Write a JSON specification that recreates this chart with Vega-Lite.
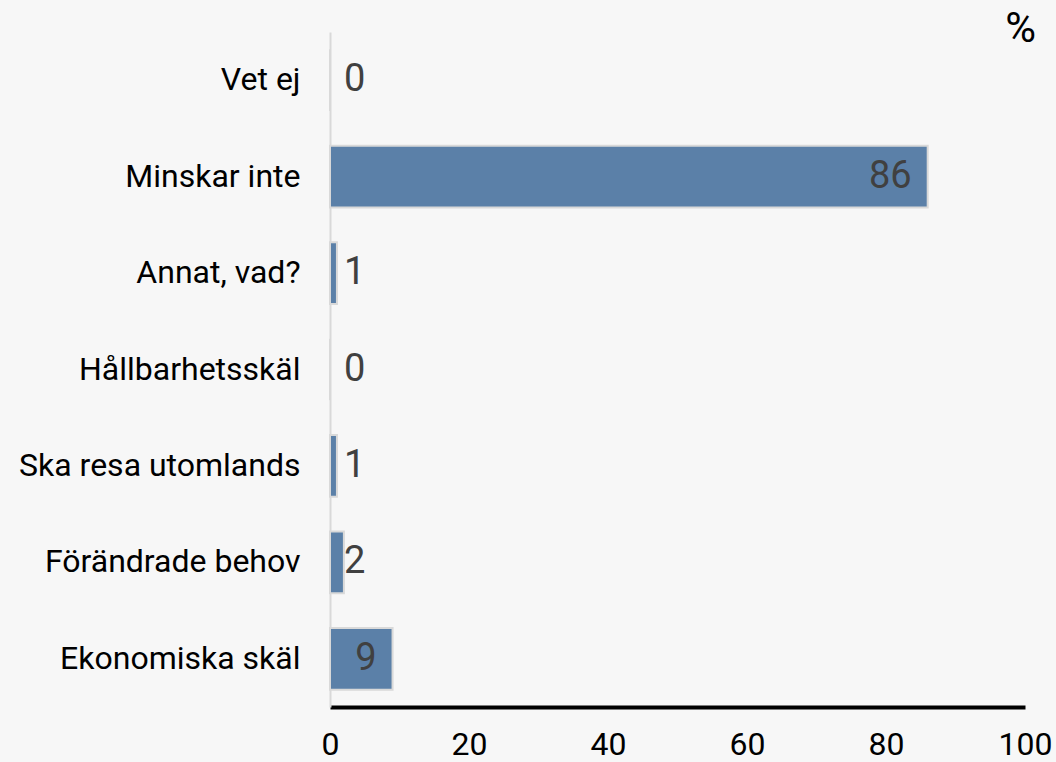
{
  "$schema": "https://vega.github.io/schema/vega-lite/v6.json",
  "width": 695,
  "height": 675,
  "autosize": {"type": "none"},
  "padding": {"left": 330, "top": 32, "right": 31, "bottom": 55},
  "background": "#f7f7f7",
  "config": {"view": {"stroke": null}, "font": "Roboto"},
  "data": {"values": [
    {"kategori": "Vet ej", "andel": 0},
    {"kategori": "Minskar inte", "andel": 86},
    {"kategori": "Annat, vad?", "andel": 1},
    {"kategori": "Hållbarhetsskäl", "andel": 0},
    {"kategori": "Ska resa utomlands", "andel": 1},
    {"kategori": "Förändrade behov", "andel": 2},
    {"kategori": "Ekonomiska skäl", "andel": 9}
  ]},
  "encoding": {
    "y": {"field": "kategori", "type": "nominal", "sort": null,
      "scale": {"paddingInner": 0.36, "paddingOuter": 0.18},
      "axis": {"title": null, "ticks": false, "grid": false, "domainColor": "#d9d9d9", "domainWidth": 2,
        "labelFont": "Roboto", "labelFontSize": 32, "labelColor": "#000000", "labelPadding": 30, "labelLimit": 400}},
    "x": {"field": "andel", "type": "quantitative",
      "scale": {"domain": [0, 100], "nice": false},
      "axis": {"title": "%", "titleFont": "Roboto", "titleFontSize": 42, "titleFontWeight": "normal", "titleColor": "#000000",
        "titleX": 690, "titleY": -699, "titleAlign": "center", "titleBaseline": "top",
        "values": [0, 20, 40, 60, 80, 100], "ticks": false, "grid": false, "domainColor": "#000000", "domainWidth": 4,
        "labelFont": "Roboto", "labelFontSize": 32, "labelColor": "#000000", "labelPadding": 22, "labelFlush": false}}
  },
  "layer": [
    {"mark": {"type": "bar", "color": "#5b80a8", "stroke": "#d9d9d9", "strokeWidth": 2}},
    {"transform": [{"filter": "datum.andel >= 5"}],
      "mark": {"type": "text", "align": "right", "dx": -16, "fontSize": 38, "color": "#404040", "font": "Roboto"},
      "encoding": {"text": {"field": "andel", "type": "quantitative"}}},
    {"transform": [{"filter": "datum.andel < 5"}],
      "mark": {"type": "text", "align": "left", "dx": 14, "fontSize": 38, "color": "#404040", "font": "Roboto"},
      "encoding": {"x": {"datum": 0}, "text": {"field": "andel", "type": "quantitative"}}}
  ]
}
